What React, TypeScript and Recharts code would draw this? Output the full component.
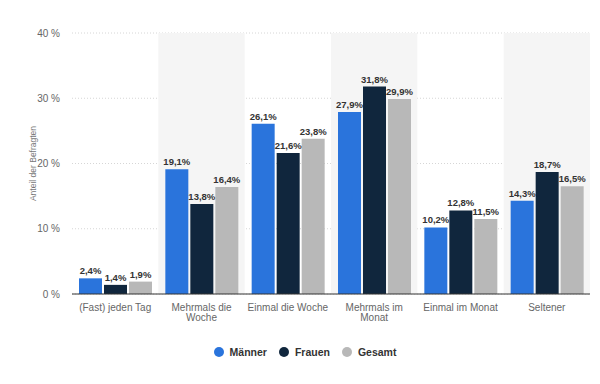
import { BarChart, Bar, XAxis, YAxis, CartesianGrid, ReferenceArea, LabelList } from 'recharts';

const categories = ['(Fast) jeden Tag', 'Mehrmals die Woche', 'Einmal die Woche', 'Mehrmals im Monat', 'Einmal im Monat', 'Seltener'];
const maenner = [2.4, 19.1, 26.1, 27.9, 10.2, 14.3];
const frauen = [1.4, 13.8, 21.6, 31.8, 12.8, 18.7];
const gesamt = [1.9, 16.4, 23.8, 29.9, 11.5, 16.5];
const yTicks = [0, 10, 20, 30, 40];

const series = [
  { key: 'maenner', name: 'Männer', color: '#2a74dc' },
  { key: 'frauen', name: 'Frauen', color: '#10263d' },
  { key: 'gesamt', name: 'Gesamt', color: '#b8b8b8' },
];

const data = categories.map((name, i) => ({
  name,
  maenner: maenner[i],
  frauen: frauen[i],
  gesamt: gesamt[i],
}));

// every second category gets a light background band
const bands = categories.filter((_, i) => i % 2 === 1);

const font = '"Liberation Sans", Arial, sans-serif';

function CategoryTick({ x, y, payload }: any) {
  const label: string = payload.value;
  let lines = [label];
  if (label.length > 16) {
    const cut = label.lastIndexOf(' ');
    lines = [label.slice(0, cut), label.slice(cut + 1)];
  }
  return (
    <text x={x} y={y} textAnchor="middle" fontSize={10} fill="#666" fontFamily={font}>
      {lines.map((l, i) => (
        <tspan key={i} x={x} dy={i === 0 ? 9 : 10}>
          {l}
        </tspan>
      ))}
    </text>
  );
}

const fmt = (v: number) => `${v.toFixed(1).replace('.', ',')}%`;

export default function App() {
  return (
    <div style={{ position: 'absolute', left: 0, top: 0, width: 600, height: 384, background: '#fff', fontFamily: font }}>
      <BarChart
        width={600}
        height={384}
        data={data}
        margin={{ top: 33, right: 10, bottom: 30, left: 0 }}
        barSize={23}
        barGap={2}
      >
        {bands.map((c) => (
          <ReferenceArea key={c} x1={c} x2={c} y1={0} y2={40} fill="#f5f5f5" fillOpacity={1} stroke="none" ifOverflow="extendDomain" />
        ))}
        <CartesianGrid vertical={false} stroke="#d6d6d6" strokeDasharray="1 2" />
        <XAxis
          dataKey="name"
          height={60}
          tickLine={false}
          axisLine={{ stroke: '#333' }}
          interval={0}
          tick={<CategoryTick />}
        />
        <YAxis
          width={72}
          domain={[0, 40]}
          ticks={yTicks}
          tickFormatter={(v) => `${v} %`}
          axisLine={false}
          tickLine={false}
          tickMargin={6}
          tick={{ fontSize: 10, fill: '#666', fontFamily: font }}
          label={({ viewBox }: any) => (
            <text
              x={33}
              y={viewBox.y + viewBox.height / 2}
              transform={`rotate(-90 33 ${viewBox.y + viewBox.height / 2})`}
              textAnchor="middle"
              dominantBaseline="central"
              fontSize={8.5}
              fill="#777"
              fontFamily={font}
            >
              Anteil der Befragten
            </text>
          )}
        />
        {series.map((s) => (
          <Bar key={s.key} dataKey={s.key} name={s.name} fill={s.color} isAnimationActive={false}>
            <LabelList
              dataKey={s.key}
              position="top"
              offset={4}
              formatter={(v: any) => fmt(Number(v))}
              style={{ fontSize: 9.5, fontWeight: 'bold', fill: '#333', fontFamily: font }}
            />
          </Bar>
        ))}
      </BarChart>
      <div
        style={{
          position: 'absolute',
          top: 344,
          left: 0,
          width: 610,
          display: 'flex',
          justifyContent: 'center',
          gap: 12,
          fontSize: 10.5,
          fontWeight: 'bold',
          color: '#333',
        }}
      >
        {series.map((s) => (
          <div key={s.key} style={{ display: 'flex', alignItems: 'center', gap: 6, height: 16 }}>
            <span style={{ width: 10, height: 10, borderRadius: '50%', background: s.color, display: 'inline-block' }} />
            <span>{s.name}</span>
          </div>
        ))}
      </div>
    </div>
  );
}
